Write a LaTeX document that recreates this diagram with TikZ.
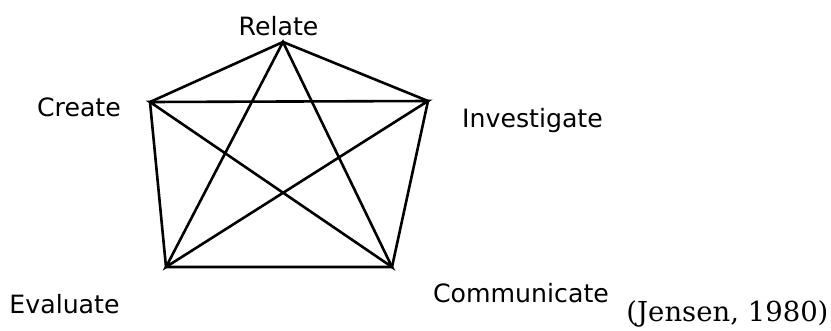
\documentclass[tikz,border=0pt]{standalone}
\usepackage{fontspec}
\setmainfont{DejaVu Sans}
\newfontfamily\citefont{DejaVu Serif}
\usepackage{tikz}

\begin{document}
\begin{tikzpicture}[x=1pt, y=-1pt,
    edge/.style={line width=2.6pt, line join=miter},
    label/.style={inner sep=0pt, anchor=base, font=\fontsize{25.2}{30}\selectfont}]
    \useasboundingbox (0,0) rectangle (831,330);

    % corners of the pentagon
    \coordinate (rel) at (283,42);
    \coordinate (cre) at (150,102);
    \coordinate (inv) at (428,101);
    \coordinate (eva) at (166,267);
    \coordinate (com) at (392,267);

    \node[label] (relate) at (278.5,35) {Relate};
    \node[label] (create) at (79,116) {Create};
    \node[label] (investigate) at (532.5,127) {Investigate};
    \node[label] (evaluate) at (64.5,313) {Evaluate};
    \node[label] (communicate) at (521,302) {Communicate};
    \node[inner sep=0pt, anchor=base, font=\citefont\fontsize{27.5}{32}\selectfont] (source) at (727.5,321) {(Jensen, 1980)};

    \draw[edge] (rel) -- (inv) -- (com) -- (eva) -- (cre) -- cycle;
    \draw[edge] (rel) -- (com) -- (cre) -- (inv) -- (eva) -- cycle;
  \end{tikzpicture}
\end{document}
